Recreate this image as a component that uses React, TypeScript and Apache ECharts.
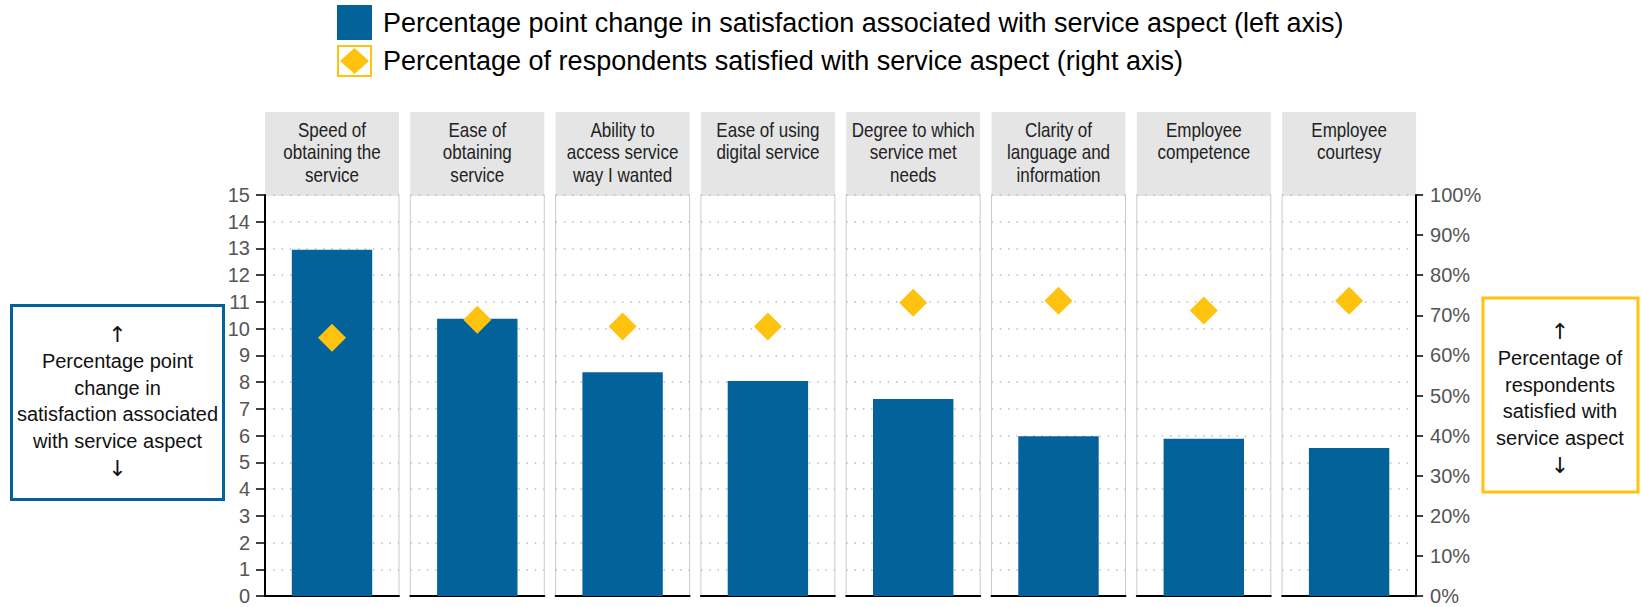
import React, { useEffect, useRef } from "react";
import * as echarts from "echarts";

// ---- Data ----
const categories = [
  "Speed of\nobtaining the\nservice",
  "Ease of\nobtaining\nservice",
  "Ability to\naccess service\nway I wanted",
  "Ease of using\ndigital service",
  "Degree to which\nservice met\nneeds",
  "Clarity of\nlanguage and\ninformation",
  "Employee\ncompetence",
  "Employee\ncourtesy",
];
const ppChange = [12.95, 10.37, 8.37, 8.04, 7.37, 5.98, 5.88, 5.54];
const pctSatisfied = [64.4, 68.9, 67.2, 67.2, 73.1, 73.6, 71.2, 73.6];

const leftAxisMin = 0;
const leftAxisMax = 15;
const leftAxisStep = 1;
const rightAxisMin = 0;
const rightAxisMax = 100;
const rightAxisStep = 10;

const BAR_NAME =
  "Percentage point change in satisfaction associated with service aspect (left axis)";
const DOT_NAME =
  "Percentage of respondents satisfied with service aspect (right axis)";

const leftBoxLines = [
  "Percentage point",
  "change in",
  "satisfaction associated",
  "with service aspect",
];
const rightBoxLines = [
  "Percentage of",
  "respondents",
  "satisfied with",
  "service aspect",
];

// ---- Styles / layout ----
const BLUE = "#04629A";
const YELLOW = "#FFC20E";
const SANS = "'Liberation Sans', Arial, sans-serif";
const ARROW_FONT = "'DejaVu Sans', 'Liberation Sans', sans-serif";

const PANEL_LEFT = 265;
const PANEL_PITCH = 145.3;
const PANEL_W = 134;
const PANEL_TOP = 195;
const PANEL_H = 401;
const STRIP_TOP = 112;

export default function App() {
  const ref = useRef<HTMLDivElement>(null);

  useEffect(() => {
    const chart = echarts.init(ref.current!, null, { renderer: "svg" });
    const n = categories.length;
    const grids: any[] = [];
    const xAxes: any[] = [];
    const yAxes: any[] = [];
    const series: any[] = [];
    const graphics: any[] = [];

    for (let i = 0; i < n; i++) {
      const left = PANEL_LEFT + i * PANEL_PITCH;
      grids.push({
        left,
        top: PANEL_TOP,
        width: PANEL_W,
        height: PANEL_H,
        show: true,
        backgroundColor: "#ffffff",
        borderColor: "#cccccc",
        borderWidth: 1,
      });
      xAxes.push({
        type: "category",
        gridIndex: i,
        data: [categories[i]],
        axisLine: { show: true, lineStyle: { color: "#000", width: 2 } },
        axisTick: { show: false },
        axisLabel: { show: false },
        splitLine: { show: false },
      });
      yAxes.push({
        type: "value",
        gridIndex: i,
        position: "left",
        min: leftAxisMin,
        max: leftAxisMax,
        interval: leftAxisStep,
        axisLine: { show: i === 0, lineStyle: { color: "#000", width: 2 } },
        axisTick: {
          show: i === 0,
          length: 9,
          lineStyle: { color: "#000", width: 1.5 },
        },
        axisLabel: {
          show: i === 0,
          fontFamily: SANS,
          fontSize: 20,
          color: "#555555",
          margin: 15,
        },
        splitLine: {
          show: true,
          lineStyle: { color: "#bdbdbd", width: 1.5, type: [1.5, 6.8] },
        },
      });
      yAxes.push({
        type: "value",
        gridIndex: i,
        position: "right",
        min: rightAxisMin,
        max: rightAxisMax,
        interval: rightAxisStep,
        axisLine: {
          show: i === n - 1,
          lineStyle: { color: "#000", width: 2 },
        },
        axisTick: {
          show: i === n - 1,
          length: 7,
          lineStyle: { color: "#000", width: 1.5 },
        },
        axisLabel: {
          show: i === n - 1,
          formatter: "{value}%",
          fontFamily: SANS,
          fontSize: 20,
          color: "#555555",
          margin: 14,
        },
        splitLine: { show: false },
      });
      series.push({
        type: "bar",
        name: BAR_NAME,
        xAxisIndex: i,
        yAxisIndex: 2 * i,
        data: [ppChange[i]],
        barWidth: "60%",
        itemStyle: { color: BLUE },
        z: 2,
      });
      series.push({
        type: "scatter",
        name: DOT_NAME,
        xAxisIndex: i,
        yAxisIndex: 2 * i + 1,
        data: [pctSatisfied[i]],
        symbol: "diamond",
        symbolSize: 28,
        itemStyle: { color: YELLOW, opacity: 1 },
        z: 3,
      });
      graphics.push({
        type: "rect",
        silent: true,
        shape: { x: left, y: STRIP_TOP, width: PANEL_W, height: PANEL_TOP - STRIP_TOP },
        style: { fill: "#e5e5e5" },
      });
      graphics.push({
        type: "text",
        silent: true,
        x: left + PANEL_W / 2,
        y: 118.5,
        scaleX: 0.83,
        style: {
          text: categories[i],
          fontFamily: SANS,
          fontSize: 20.5,
          lineHeight: 22.5,
          fill: "#222222",
          align: "center",
          verticalAlign: "top",
        },
      });
    }

    const boxRich = {
      a: { fontFamily: ARROW_FONT, fontSize: 22, lineHeight: 28, fill: "#111111" },
    };

    // Side explanation boxes
    graphics.push({
      type: "rect",
      silent: true,
      shape: { x: 11.5, y: 305.5, width: 212, height: 194 },
      style: { fill: "#ffffff", stroke: BLUE, lineWidth: 3 },
    });
    graphics.push({
      type: "text",
      silent: true,
      x: 117.5,
      y: 401,
      style: {
        text: ["{a|\u2191}", ...leftBoxLines, "{a|\u2193}"].join("\n"),
        rich: boxRich,
        fontFamily: SANS,
        fontSize: 20,
        lineHeight: 26.5,
        fill: "#111111",
        align: "center",
        verticalAlign: "middle",
      },
    });
    graphics.push({
      type: "rect",
      silent: true,
      shape: { x: 1483, y: 298, width: 155, height: 194 },
      style: { fill: "#ffffff", stroke: YELLOW, lineWidth: 3 },
    });
    graphics.push({
      type: "text",
      silent: true,
      x: 1560,
      y: 398,
      style: {
        text: ["{a|\u2191}", ...rightBoxLines, "{a|\u2193}"].join("\n"),
        rich: boxRich,
        fontFamily: SANS,
        fontSize: 20,
        lineHeight: 26.5,
        fill: "#111111",
        align: "center",
        verticalAlign: "middle",
      },
    });

    const diamondIcon =
      "path://M0 0H35V32H0Z M2 2V30H33V2Z M17.5 3L32 16L17.5 29L3 16Z";

    chart.setOption({
      animation: false,
      legend: [
        {
          data: [{ name: BAR_NAME, icon: "rect" }],
          left: 337,
          top: 5,
          padding: 0,
          itemWidth: 35,
          itemHeight: 35,
          selectedMode: false,
          textStyle: {
            fontFamily: SANS,
            fontSize: 27,
            color: "#000",
            lineHeight: 35,
            padding: [0, 0, 0, 6],
          },
        },
        {
          data: [{ name: DOT_NAME, icon: diamondIcon }],
          left: 337,
          top: 45,
          padding: 0,
          itemWidth: 35,
          itemHeight: 32,
          selectedMode: false,
          textStyle: {
            fontFamily: SANS,
            fontSize: 27,
            color: "#000",
            lineHeight: 32,
            padding: [0, 0, 0, 6],
          },
        },
      ],
      grid: grids,
      xAxis: xAxes,
      yAxis: yAxes,
      series,
      graphic: graphics,
    });

    return () => chart.dispose();
  }, []);

  return (
    <div
      ref={ref}
      style={{ position: "absolute", left: 0, top: 0, width: 1641, height: 607 }}
    />
  );
}
